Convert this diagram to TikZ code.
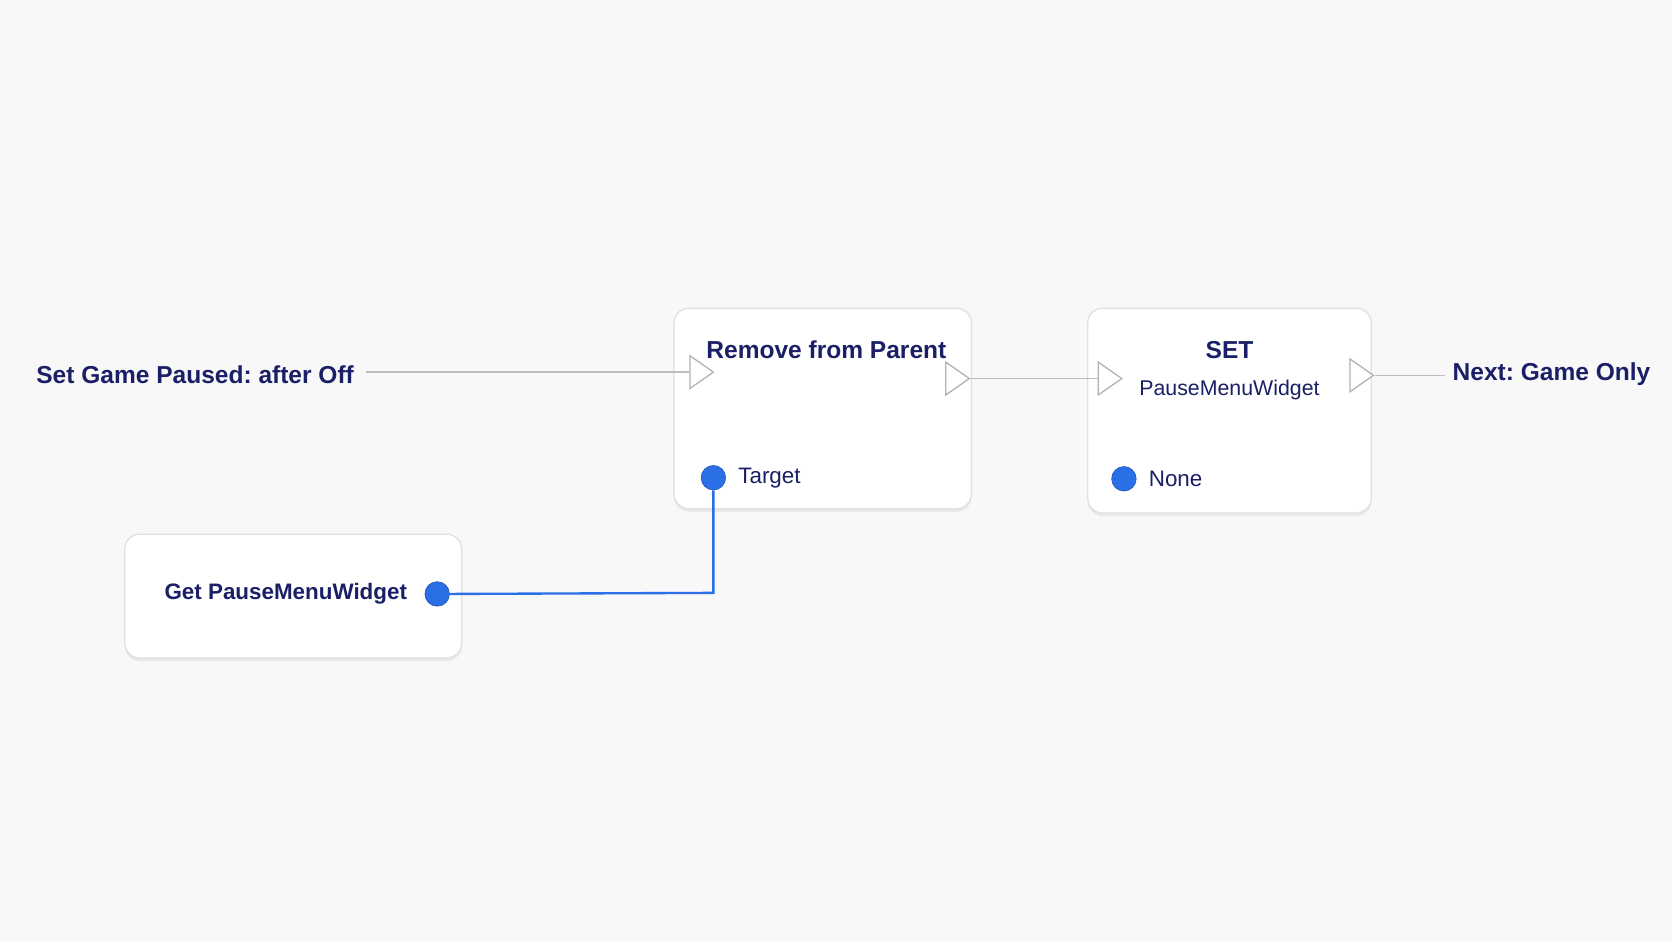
\documentclass[tikz,border=0pt]{standalone}
\usepackage{fontspec}
\setmainfont{Liberation Sans}
\frenchspacing
\usetikzlibrary{shapes.geometric,shadows}
\definecolor{navy}{HTML}{1A1F66}
\definecolor{pin}{HTML}{2A6FE6}
\definecolor{bg}{HTML}{F8F8F9}
\definecolor{wire}{HTML}{BDBDBD}
\begin{document}
\begin{tikzpicture}[x=0.5pt,y=-0.5pt,
  box/.style={draw=black!12,line width=0.6pt,fill=white,rounded corners=7pt,drop shadow={opacity=0.12,shadow xshift=0pt,shadow yshift=-1.5pt}},
  lbl/.style={text=navy,font=\fontsize{11.5}{13}\selectfont\bfseries,inner sep=0pt},
  sub/.style={text=navy,font=\fontsize{10}{12}\selectfont,inner sep=0pt},
  exec/.style={isosceles triangle,isosceles triangle apex angle=70,draw=black!30,fill=white,line width=0.6pt,minimum height=11pt,minimum width=13pt,inner sep=0pt},
  dot/.style={circle,fill=pin,draw=pin!80!black,line width=0.3pt,minimum size=11.5pt,inner sep=0pt},
  wireln/.style={draw=wire,line width=0.7pt},
  bl/.style={draw=pin,line width=1.1pt}]
\fill[bg] (0,0) rectangle (1568,882);
\useasboundingbox (0,0) rectangle (1568,882);
% boxes
\draw[box] (632,289) rectangle (911,477);
\draw[box] (1020,289) rectangle (1286,481);
\draw[box] (117,501) rectangle (433,617);
% texts
\node[lbl] (rfp) at (775,328) {Remove from Parent};
\node[lbl] (set) at (1153,328) {SET};
\node[sub] (pmw) at (1153,366) {PauseMenuWidget};
\node[sub,anchor=west,font=\fontsize{10.5}{12}\selectfont] (tgt) at (692,448) {Target};
\node[sub,anchor=west,font=\fontsize{10.5}{12}\selectfont] (non) at (1077,449) {None};
\node[lbl,font=\fontsize{10.5}{12}\selectfont\bfseries] (get) at (268,557) {Get PauseMenuWidget};
\node[lbl] (left) at (183,351) {Set Game Paused: after Off};
\node[lbl] (right) at (1455,351) {Next: Game Only};
% exec pins
\node[exec] (in1) at (655,349) {};
\node[exec] (out1) at (895,355) {};
\node[exec] (in2) at (1038,355) {};
\node[exec] (out2) at (1274,352) {};
% data pins
\node[dot] (tdot) at (669,448) {};
\node[dot] (ndot) at (1054,449) {};
\node[dot] (gdot) at (410,557) {};
\coordinate (lstart) at (343,349);
\coordinate (rend) at (1355,352);
% wires
\draw[wireln] (lstart) -- (in1.west);
\draw[wireln] (out1.east) -- (in2.west);
\draw[wireln] (out2.east) -- (rend);
\draw[bl] (gdot.east) -- (669,556) -- (tdot.south);
\end{tikzpicture}
\end{document}
